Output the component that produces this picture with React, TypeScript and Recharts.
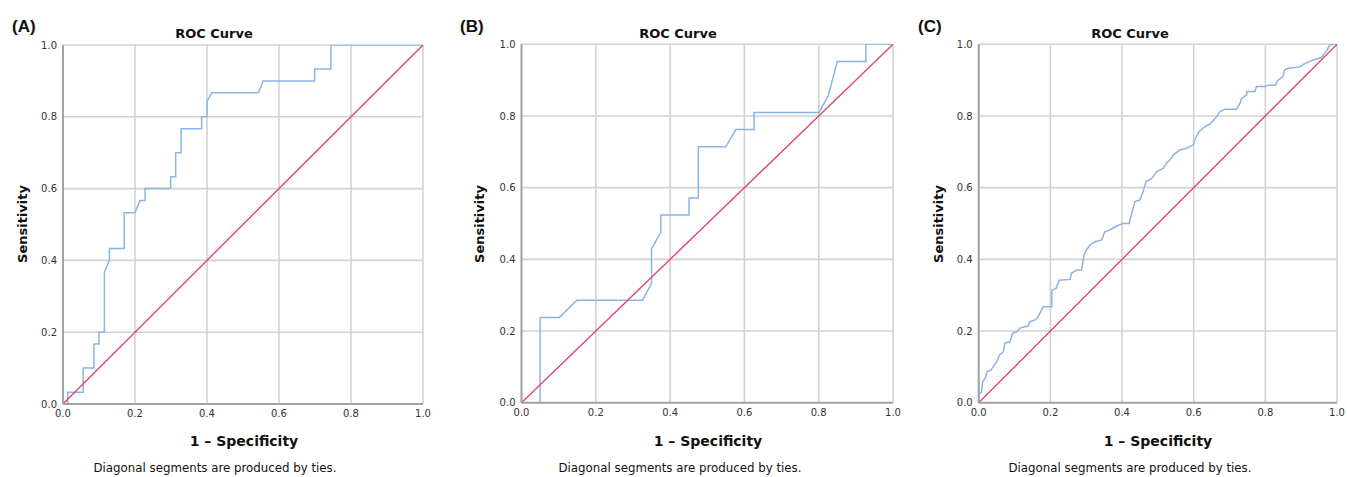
import React from 'react';
import { LineChart, Line, XAxis, YAxis, CartesianGrid } from 'recharts';

const ticks = [0, 0.2, 0.4, 0.6, 0.8, 1.0];
const diagFpr = [0, 1];
const diagTpr = [0, 1];

const aFpr = [0, 0.013, 0.013, 0.056, 0.056, 0.086, 0.086, 0.1, 0.1, 0.115, 0.115, 0.129, 0.129, 0.17, 0.17, 0.2, 0.214, 0.228, 0.228, 0.299, 0.299, 0.313, 0.313, 0.328, 0.328, 0.385, 0.385, 0.4, 0.4, 0.413, 0.543, 0.556, 0.699, 0.699, 0.744, 0.744, 1];
const aTpr = [0, 0, 0.033, 0.033, 0.1, 0.1, 0.167, 0.167, 0.2, 0.2, 0.367, 0.4, 0.433, 0.433, 0.533, 0.533, 0.567, 0.567, 0.6, 0.6, 0.633, 0.633, 0.7, 0.7, 0.767, 0.767, 0.8, 0.8, 0.842, 0.867, 0.867, 0.9, 0.9, 0.933, 0.933, 1, 1];

const bFpr = [0, 0.05, 0.05, 0.102, 0.149, 0.326, 0.35, 0.35, 0.375, 0.375, 0.451, 0.451, 0.476, 0.476, 0.55, 0.577, 0.626, 0.626, 0.801, 0.826, 0.85, 0.927, 0.927, 1];
const bTpr = [0, 0, 0.238, 0.238, 0.286, 0.286, 0.333, 0.429, 0.476, 0.524, 0.524, 0.571, 0.571, 0.714, 0.714, 0.762, 0.762, 0.81, 0.81, 0.857, 0.952, 0.952, 1, 1];

const cFpr = [0, 0.002, 0.008, 0.011, 0.018, 0.024, 0.034, 0.043, 0.05, 0.058, 0.069, 0.073, 0.087, 0.095, 0.106, 0.115, 0.129, 0.138, 0.143, 0.157, 0.166, 0.173, 0.18, 0.204, 0.204, 0.216, 0.225, 0.255, 0.259, 0.273, 0.287, 0.294, 0.301, 0.31, 0.324, 0.343, 0.352, 0.366, 0.385, 0.403, 0.42, 0.427, 0.436, 0.45, 0.459, 0.467, 0.483, 0.497, 0.515, 0.524, 0.538, 0.543, 0.561, 0.58, 0.599, 0.603, 0.615, 0.631, 0.645, 0.656, 0.664, 0.673, 0.687, 0.72, 0.729, 0.734, 0.748, 0.748, 0.771, 0.775, 0.799, 0.808, 0.829, 0.833, 0.849, 0.854, 0.864, 0.896, 0.906, 0.933, 0.957, 0.969, 0.98, 0.99, 1];
const cTpr = [0, 0.026, 0.03, 0.059, 0.068, 0.087, 0.091, 0.105, 0.114, 0.133, 0.142, 0.166, 0.17, 0.194, 0.198, 0.208, 0.212, 0.214, 0.226, 0.231, 0.24, 0.254, 0.268, 0.268, 0.314, 0.319, 0.342, 0.344, 0.361, 0.37, 0.37, 0.412, 0.426, 0.44, 0.449, 0.454, 0.477, 0.482, 0.493, 0.5, 0.5, 0.528, 0.561, 0.566, 0.589, 0.617, 0.626, 0.645, 0.654, 0.668, 0.682, 0.691, 0.705, 0.71, 0.719, 0.733, 0.756, 0.77, 0.777, 0.789, 0.798, 0.812, 0.819, 0.819, 0.835, 0.849, 0.859, 0.868, 0.868, 0.882, 0.882, 0.886, 0.886, 0.898, 0.91, 0.928, 0.933, 0.937, 0.944, 0.956, 0.963, 0.979, 0.998, 1, 1];

const toData = (xs: number[], ys: number[]) => xs.map((x, i) => ({ x, y: ys[i] }));

const BLUE = '#8ab4e6';
const RED = '#e2466c';
const GRID = '#d2d2d2';
const AXIS = '#a3a3a3';
const TICK_FONT = 'DejaVu Sans';

type PanelProps = {
  left: number;
  width: number;
  plotLeft: number;
  plotRight: number;
  plotTop: number;
  plotBottom: number;
  fpr: number[];
  tpr: number[];
};

function Panel({ left, width, plotLeft, plotRight, plotTop, plotBottom, fpr, tpr }: PanelProps) {
  const xAxisHeight = 30;
  const roc = toData(fpr, tpr);
  const diag = toData(diagFpr, diagTpr);
  const tickStyle = { fontSize: 10, fill: '#333', fontFamily: TICK_FONT };
  return (
    <div style={{ position: 'absolute', left, top: 0, width, height: 477 }}>
      <LineChart
        width={width}
        height={477}
        margin={{ top: plotTop, right: left + width - plotRight, bottom: 477 - plotBottom - xAxisHeight, left: 0 }}
      >
        <CartesianGrid stroke={GRID} strokeWidth={1.6} horizontalValues={ticks} verticalValues={ticks} />
        <XAxis
          dataKey="x"
          type="number"
          domain={[0, 1]}
          ticks={ticks}
          allowDataOverflow
          height={xAxisHeight}
          tickSize={0}
          tickMargin={6}
          tickFormatter={(v: number) => v.toFixed(1)}
          tick={tickStyle}
          axisLine={{ stroke: AXIS, strokeWidth: 2 }}
        />
        <YAxis
          dataKey="y"
          type="number"
          domain={[0, 1]}
          ticks={ticks}
          allowDataOverflow
          width={plotLeft - left}
          tickSize={0}
          tickMargin={6}
          tickFormatter={(v: number) => v.toFixed(1)}
          tick={tickStyle}
          axisLine={{ stroke: AXIS, strokeWidth: 2 }}
        />
        <Line data={roc} dataKey="y" type="linear" stroke={BLUE} strokeWidth={1.5} dot={false} isAnimationActive={false} />
        <Line data={diag} dataKey="y" type="linear" stroke={RED} strokeWidth={1.4} dot={false} isAnimationActive={false} />
      </LineChart>
    </div>
  );
}

const panelLetters = ['(A)', '(B)', '(C)'];
const letterX = [12, 460, 918];
const titleX = [214, 678, 1130];
const xLabelX = [244, 708, 1158];
const yLabelX = [22, 479, 938];
const footX = [215, 680, 1130];

export default function App() {
  return (
    <div style={{ position: 'absolute', left: 0, top: 0, width: 1347, height: 477, background: '#fff' }}>
      <Panel left={0} width={450} plotLeft={63} plotRight={423} plotTop={45} plotBottom={404} fpr={aFpr} tpr={aTpr} />
      <Panel left={450} width={460} plotLeft={521.5} plotRight={893} plotTop={44.3} plotBottom={402.7} fpr={bFpr} tpr={bTpr} />
      <Panel left={910} width={437} plotLeft={978.7} plotRight={1337} plotTop={44.3} plotBottom={402.7} fpr={cFpr} tpr={cTpr} />
      <svg width={1347} height={477} style={{ position: 'absolute', left: 0, top: 0, pointerEvents: 'none' }}>
        {panelLetters.map((t, i) => (
          <text key={'l' + i} x={letterX[i]} y={32} fontFamily="Liberation Sans" fontWeight="bold" fontSize={17} fill="#111">{t}</text>
        ))}
        {titleX.map((x, i) => (
          <text key={'t' + i} x={x} y={38} textAnchor="middle" fontFamily="DejaVu Sans" fontWeight="bold" fontSize={13} fill="#111">ROC Curve</text>
        ))}
        {xLabelX.map((x, i) => (
          <text key={'x' + i} x={x} y={446} textAnchor="middle" fontFamily="DejaVu Sans" fontWeight="bold" fontSize={14} fill="#111">1 – Specificity</text>
        ))}
        {yLabelX.map((x, i) => (
          <text key={'y' + i} x={x} y={224} textAnchor="middle" dominantBaseline="central" transform={`rotate(-90 ${x} 224)`} fontFamily="DejaVu Sans" fontWeight="bold" fontSize={13} fill="#111">Sensitivity</text>
        ))}
        {footX.map((x, i) => (
          <text key={'f' + i} x={x} y={472} textAnchor="middle" fontFamily="DejaVu Sans" fontSize={11.8} fill="#111">Diagonal segments are produced by ties.</text>
        ))}
      </svg>
    </div>
  );
}
